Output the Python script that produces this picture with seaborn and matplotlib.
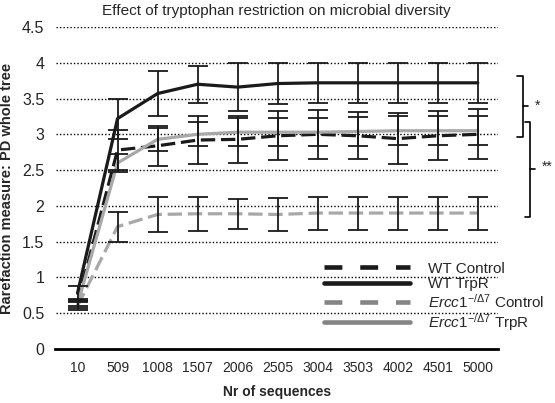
import seaborn as sns
import matplotlib.pyplot as plt
import pandas as pd
import numpy as np

# values
seqs = ["10", "509", "1008", "1507", "2006", "2505", "3004", "3503", "4002", "4501", "5000"]

wt_ctrl = [0.65, 2.78, 2.84, 2.92, 2.93, 2.98, 3.00, 2.98, 2.94, 2.98, 3.00]
wt_ctrl_err = [0.05, 0.28, 0.28, 0.33, 0.33, 0.34, 0.34, 0.33, 0.36, 0.34, 0.35]

wt_trpr = [0.78, 3.22, 3.57, 3.70, 3.66, 3.71, 3.72, 3.72, 3.72, 3.72, 3.72]
wt_trpr_err = [0.10, 0.28, 0.32, 0.26, 0.33, 0.28, 0.28, 0.28, 0.28, 0.28, 0.28]

ercc_ctrl = [0.60, 1.71, 1.88, 1.89, 1.89, 1.88, 1.90, 1.90, 1.90, 1.90, 1.90]
ercc_ctrl_err = [0.05, 0.21, 0.25, 0.24, 0.21, 0.23, 0.23, 0.23, 0.23, 0.23, 0.23]

ercc_trpr = [0.62, 2.60, 2.93, 3.00, 3.03, 3.03, 3.03, 3.04, 3.05, 3.05, 3.05]
ercc_trpr_err = [0.05, 0.12, 0.16, 0.17, 0.20, 0.20, 0.20, 0.20, 0.20, 0.20, 0.20]

labels = ["WT Control", "WT TrpR",
          r"$\mathit{Ercc1}^{\mathit{-/\Delta7}}$ Control", r"$\mathit{Ercc1}^{\mathit{-/\Delta7}}$ TrpR"]
means = [wt_ctrl, wt_trpr, ercc_ctrl, ercc_trpr]
errs = [wt_ctrl_err, wt_trpr_err, ercc_ctrl_err, ercc_trpr_err]
colors = ["#1a1a1a", "#1a1a1a", "#a8a8a8", "#a8a8a8"]
styles = [(0, (4.5, 1.8)), "-", (0, (4.5, 1.8)), "-"]

rows = []
for lab, m, e in zip(labels, means, errs):
    for s, v, er in zip(seqs, m, e):
        rows.append((s, lab, v, er))
df = pd.DataFrame(rows, columns=["seqs", "group", "pd", "err"])

sns.set_style("white")
plt.rcParams["font.family"] = ["Liberation Sans", "DejaVu Sans"]
plt.rcParams["mathtext.fontset"] = "custom"
plt.rcParams["mathtext.rm"] = "Liberation Sans"
plt.rcParams["mathtext.it"] = "Liberation Sans:italic"

fig = plt.figure(figsize=(5.55, 4.03), dpi=100)
ax = fig.add_axes([0.1, 0.134, 0.797, 0.799])

for lab, col, ls in zip(labels, colors, styles):
    sub = df[df["group"] == lab]
    sns.lineplot(data=sub, x="seqs", y="pd", color=col, lw=2.3, ax=ax,
                 label=lab, linestyle=ls, sort=False)
    ax.errorbar(sub["seqs"], sub["pd"], yerr=sub["err"], fmt="none",
                ecolor="#1a1a1a", elinewidth=1.3, capsize=7, capthick=1.3, zorder=5)

ax.set_ylim(0, 4.5)
ax.set_xlim(-0.55, 10.5)
ax.set_yticks(np.arange(0, 4.51, 0.5))
ax.set_yticklabels(["0", "0.5", "1", "1.5", "2", "2.5", "3", "3.5", "4", "4.5"])
ax.yaxis.grid(True, linestyle=(0, (1, 1.5)), color="black", lw=1)
ax.set_axisbelow(True)
for sp in ["top", "right", "left"]:
    ax.spines[sp].set_visible(False)
ax.spines["bottom"].set_linewidth(2)
ax.spines["bottom"].set_color("black")
ax.tick_params(axis="y", length=0, labelsize=11.5, pad=8)
ax.tick_params(axis="x", length=0, labelsize=10, pad=9)

ax.set_title("Effect of tryptophan restriction on microbial diversity", fontsize=11, pad=9)
ax.set_xlabel("Nr of sequences", fontsize=10, fontweight="bold", labelpad=7)
ax.set_ylabel("Rarefaction measure: PD whole tree", fontsize=10.5, fontweight="bold", labelpad=6)

leg = ax.legend(loc="upper left", bbox_to_anchor=(0.59, 0.295), frameon=False,
                handlelength=5.6, fontsize=11, labelspacing=0.1, borderpad=0,
                handletextpad=1.2)
leg_colors = ["#1a1a1a", "#1a1a1a", "#858585", "#858585"]
for ln, c, ls in zip(leg.get_lines(), leg_colors, styles):
    ln.set_linewidth(3.3)
    ln.set_color(c)
    if ls != "-":
        ln.set_dashes((3.9, 3.9))

# significance brackets
kw = dict(color="black", lw=1.2, clip_on=False)
ax.plot([10.97, 11.12, 11.12, 10.97], [3.81, 3.81, 2.96, 2.96], **kw)
ax.plot([11.12, 11.25], [3.4, 3.4], **kw)
ax.text(11.42, 3.4, "*", fontsize=10, va="center", ha="left")
ax.plot([11.17, 11.3, 11.3, 11.17], [3.17, 3.17, 1.85, 1.85], **kw)
ax.plot([11.3, 11.42], [2.51, 2.51], **kw)
ax.text(11.6, 2.55, "**", fontsize=10, va="center", ha="left")

plt.savefig("out.png", dpi=100)
